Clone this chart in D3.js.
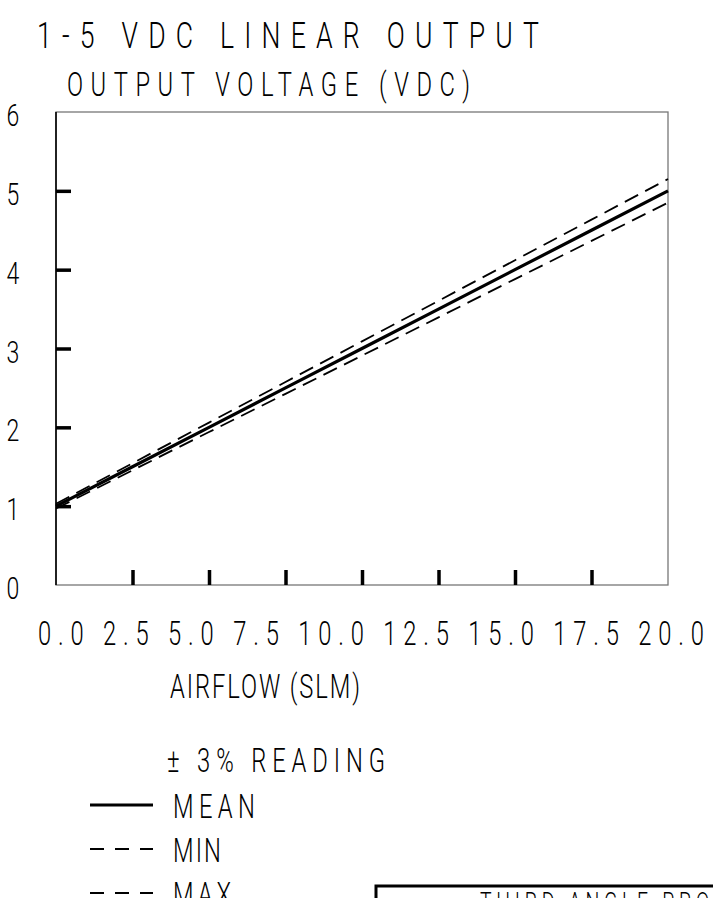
<!DOCTYPE html>
<html>
<head>
<meta charset="utf-8">
<script src="https://cdn.jsdelivr.net/npm/d3@7"></script>
<style>
  html, body { margin: 0; padding: 0; background: #fff; }
  text { font-family: Roboto, "DejaVu Sans", sans-serif; font-weight: 300; fill: #000; }
</style>
</head>
<body>
<svg id="chart" width="713" height="898"></svg>
<script>
// airflow points (SLM) and output voltage
const airflow = [0, 2.5, 5, 7.5, 10, 12.5, 15, 17.5, 20];
const meanVolts = [1.0, 1.5, 2.0, 2.5, 3.0, 3.5, 4.0, 4.5, 5.0];
const minVolts = [0.97, 1.455, 1.94, 2.425, 2.91, 3.395, 3.88, 4.365, 4.85];
const maxVolts = [1.03, 1.545, 2.06, 2.575, 3.09, 3.605, 4.12, 4.635, 5.15];

const xTickLabels = ["0.0", "2.5", "5.0", "7.5", "10.0", "12.5", "15.0", "17.5", "20.0"];
const xInnerTicks = [2.5, 5, 7.5, 10, 12.5, 15, 17.5];
const yTickValues = [0, 1, 2, 3, 4, 5, 6];
const yInnerTicks = [1, 2, 3, 4, 5];

const legendItems = ["MEAN", "MIN", "MAX"];

const svg = d3.select("#chart");
const SX = 0.72; // squeeze text horizontally, like the plotter font

const margin = { top: 112, right: 45, bottom: 313, left: 56 };
const width = 713, height = 898;

const x = d3.scaleLinear().domain([0, 20]).range([margin.left, width - margin.right]);
const y = d3.scaleLinear().domain([0, 6]).range([height - margin.bottom, margin.top]);

// text helper: narrow glyphs, optional total span
function label(px, py, str, size, span, anchor) {
    const g = svg.append("g").attr("transform", `translate(${px},${py}) scale(${SX},1)`);
    const t = g.append("text")
        .attr("font-size", size)
        .attr("text-anchor", anchor || "start")
        .text(str);
    if (span) t.attr("textLength", span / SX).attr("lengthAdjust", "spacing");
    return t;
}

// titles
label(37, 48, "1-5 VDC LINEAR OUTPUT", 37, 502);
label(67, 96, "OUTPUT VOLTAGE (VDC)", 33, 403);

// frame: top/right/bottom grey, left black
svg.append("rect")
    .attr("x", x(0)).attr("y", y(6))
    .attr("width", x(20) - x(0)).attr("height", y(0) - y(6))
    .attr("fill", "none").attr("stroke", "#777").attr("stroke-width", 1.3);
svg.append("line")
    .attr("x1", x(0)).attr("x2", x(0)).attr("y1", y(6)).attr("y2", y(0))
    .attr("stroke", "#000").attr("stroke-width", 1.6);

// inner tick marks
const xAxis = svg.append("g")
    .attr("transform", `translate(0,${y(0)})`)
    .call(d3.axisBottom(x).tickValues(xInnerTicks).tickSize(-15).tickFormat(""));
xAxis.select(".domain").remove();
xAxis.selectAll(".tick line").attr("stroke", "#000").attr("stroke-width", 3.5);

const yAxis = svg.append("g")
    .attr("transform", `translate(${x(0)},0)`)
    .call(d3.axisLeft(y).tickValues(yInnerTicks).tickSize(-15).tickFormat(""));
yAxis.select(".domain").remove();
yAxis.selectAll(".tick line").attr("stroke", "#000").attr("stroke-width", 3.5);

// tick labels
yTickValues.forEach(v => label(13, y(v) + 14, String(v), 32, null, "middle"));

// the x labels sit as one spaced-out line under the axis
label(38, 645, xTickLabels.join(" "), 33, 666);

label(170, 698, "AIRFLOW (SLM)", 33, 190);

// series
const line = d3.line().x((d, i) => x(airflow[i])).y(d => y(d));
const series = [
    { values: maxVolts, width: 1.8, dash: "15,8" },
    { values: minVolts, width: 1.8, dash: "15,8" },
    { values: meanVolts, width: 3.2, dash: null }
];
svg.selectAll(".series")
    .data(series)
    .enter()
    .append("path")
    .attr("class", "series")
    .attr("d", d => line(d.values))
    .attr("fill", "none")
    .attr("stroke", "#000")
    .attr("stroke-width", d => d.width)
    .attr("stroke-dasharray", d => d.dash);

// legend
label(167, 772, "\u00B1 3% READING", 33, 218);
const legendSpan = { MEAN: 82, MIN: 48, MAX: 58 };
const legendY = d3.scalePoint().domain(legendItems).range([805, 893]);
legendItems.forEach((name, i) => {
    svg.append("line")
        .attr("x1", 90).attr("x2", 153)
        .attr("y1", legendY(name)).attr("y2", legendY(name))
        .attr("stroke", "#000")
        .attr("stroke-width", i === 0 ? 3.2 : 1.8)
        .attr("stroke-dasharray", i === 0 ? null : "14,11");
    label(173, legendY(name) + 13, name, 33, legendSpan[name]);
});

// title block corner, cut by the page edge
svg.append("path")
    .attr("d", "M376,898 V886 H713")
    .attr("fill", "none").attr("stroke", "#000").attr("stroke-width", 3);
label(480, 912, "THIRD ANGLE PROJECTION", 27, 340);
</script>
</body>
</html>
